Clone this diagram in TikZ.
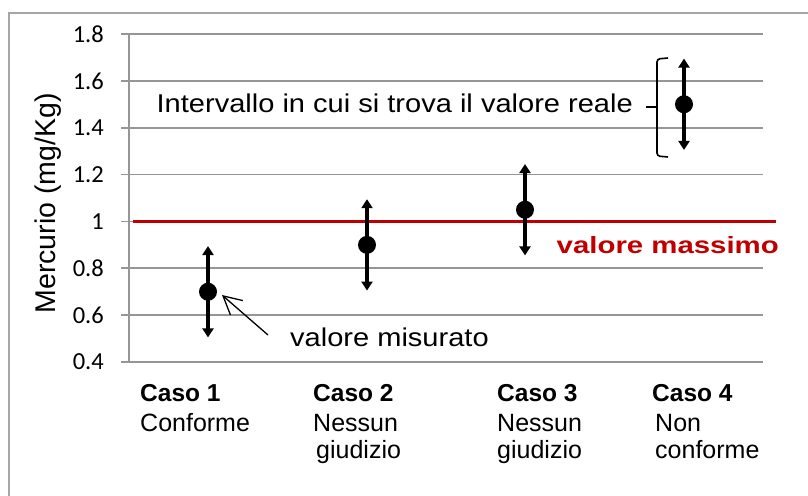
\documentclass[tikz,border=0pt]{standalone}
\usepackage{graphicx}
\usepackage{fontspec}
\setmainfont{Liberation Sans}
\newfontfamily\calib{Carlito}
\usetikzlibrary{arrows.meta}
\definecolor{gridc}{HTML}{969696}
\definecolor{framec}{HTML}{A6A6A6}
\definecolor{redc}{HTML}{C00000}
\begin{document}
\begin{tikzpicture}[x=1pt,y=-1pt,
  gridline/.style={draw=gridc, line width=1.6pt},
  ticklab/.style={font=\calib\fontsize{24.5}{29}\selectfont, anchor=east, inner sep=0pt},
  errbar/.style={line width=3.5pt, {Triangle[length=9pt,width=11pt]}-{Triangle[length=9pt,width=11pt]}},
  dot/.style={circle, fill=black, minimum size=18pt, inner sep=0pt},
  bigtext/.style={anchor=base west, inner sep=0pt, font=\fontsize{25.7}{30}\selectfont},
  caselab/.style={anchor=base west, inner sep=0pt, font=\bfseries\fontsize{24.5}{29}\selectfont},
  desclab/.style={anchor=base west, inner sep=0pt, font=\fontsize{25}{29}\selectfont},
  bracketline/.style={line width=1.6pt}
]
\useasboundingbox (0,0) rectangle (808,495);
\fill[white] (0,0) rectangle (808,495);
% outer frame
\draw[framec, line width=1.5pt] (9,500) -- (9,13) -- (815,13);
% grid and ticks
\foreach \v/\lab in {0.4/0.4, 0.6/0.6, 0.8/0.8, 1.0/1, 1.2/1.2, 1.4/1.4, 1.6/1.6, 1.8/1.8}{
  \draw[gridline] (121,{362-(\v-0.4)*234.29}) -- (763,{362-(\v-0.4)*234.29});
  \node[ticklab] (tl\lab) at (104,{362-(\v-0.4)*234.29}) {\lab};
}
\draw[gridline] (129,34) -- (129,362);
% axis title
\node[rotate=90, inner sep=0pt, font=\fontsize{28.5}{32}\selectfont] (ytitle) at (48,203.5) {Mercurio (mg/Kg)};
% red limit line
\draw[redc, line width=3pt] (133,221.4) -- (776,221.4);
\node[anchor=base east, inner sep=0pt, text=redc, font=\bfseries\fontsize{23.5}{27}\selectfont] (vmax) at (779,253.3) {\scalebox{1.25}[1]{valore massimo}};
% data points with error bars
\foreach \i/\x/\v in {1/208/0.7, 2/367/0.9, 3/525/1.05, 4/684/1.5}{
  \coordinate (t\i) at (\x,{362-(\v+0.195-0.4)*234.29});
  \coordinate (b\i) at (\x,{362-(\v-0.195-0.4)*234.29});
  \draw[errbar] (b\i) -- (t\i);
  \node[dot] (p\i) at (\x,{362-(\v-0.4)*234.29}) {};
}
% bracket for interval
\draw[bracketline, rounded corners=3pt] (668,58) -- (657,59) -- (657,156) -- (668,157);
\draw[bracketline] (646,107) -- (657,107);
\node[bigtext, anchor=base east] (intv) at (633,112) {\scalebox{1.13}[1]{Intervallo in cui si trova il valore reale}};
% measured value label
\node[bigtext] (vmis) at (290,346.7) {\scalebox{1.13}[1]{valore misurato}};
\coordinate (mtail) at (268,335);
\coordinate (mtip) at (222,295);
\draw[line width=1.3pt, -{Straight Barb[length=18pt,width=19pt]}] (mtail) -- (mtip);
% category labels
\node[caselab] (c1) at (140,401) {Caso 1};
\node[desclab] (d1) at (140,431) {Conforme};
\node[caselab] (c2) at (313,401) {Caso 2};
\node[desclab] (d2a) at (313,431) {Nessun};
\node[desclab] (d2b) at (316,458) {giudizio};
\node[caselab] (c3) at (497,401) {Caso 3};
\node[desclab] (d3a) at (497,431) {Nessun};
\node[desclab] (d3b) at (497,458) {giudizio};
\node[caselab] (c4) at (652,401) {Caso 4};
\node[desclab] (d4a) at (655,431) {Non};
\node[desclab] (d4b) at (655,458) {conforme};
\end{tikzpicture}
\end{document}
